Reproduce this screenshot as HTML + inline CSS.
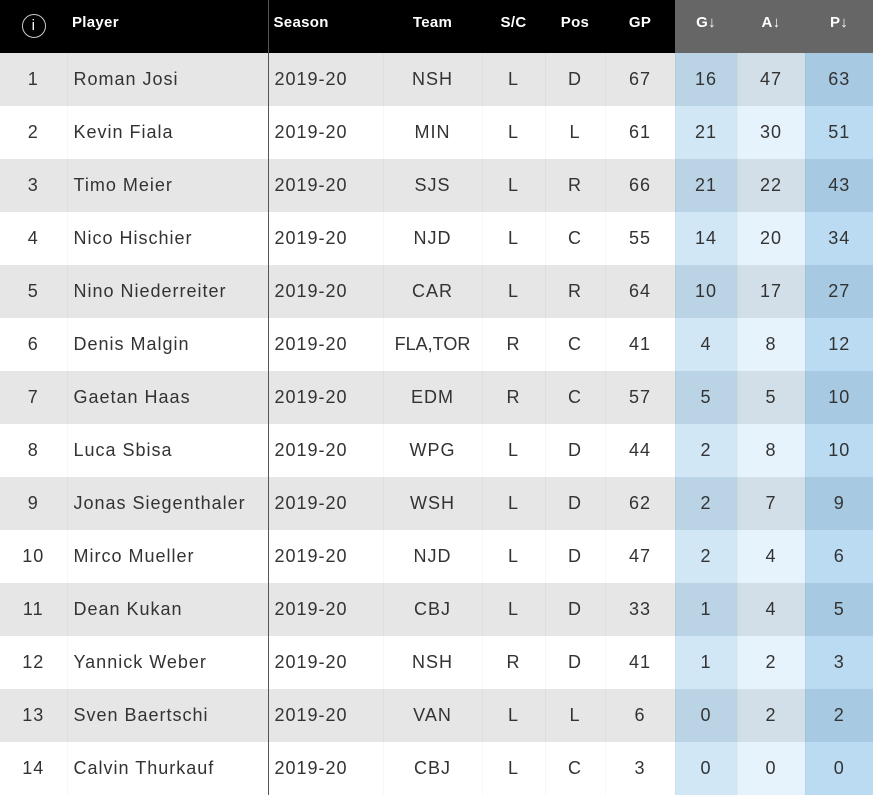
<!DOCTYPE html>
<html><head><style>
body{margin:0;width:873px;height:793px;overflow:hidden;background:#fff;font-family:"Liberation Sans",sans-serif}
table{border-collapse:collapse;table-layout:fixed;width:873px}
th{background:#000;color:#fff;font-size:15px;font-weight:bold;height:53px;padding:0;text-align:center;vertical-align:top;padding-top:14px;box-sizing:border-box;letter-spacing:0.3px}
th.s{background:#666}
td{height:53px;padding:0;font-size:18px;color:#333;text-align:center;border-left:1px solid rgba(0,0,0,0.03);letter-spacing:1px}
td:first-child,th:first-child{border-left:none}
tr:nth-child(odd) td{background:#e6e6e6}
td.l{text-align:left;padding-left:6px}
td.n{letter-spacing:1.2px}
th.l{text-align:left;padding-left:5px}
td.sep,th.sep{border-left:1px solid #555}
tr:nth-child(odd) td.g{background:#bad4e6}tr:nth-child(even) td.g{background:#d2e7f6}
tr:nth-child(odd) td.a{background:#d3dfe8}tr:nth-child(even) td.a{background:#e7f3fc}
tr:nth-child(odd) td.p{background:#a7c9e1}tr:nth-child(even) td.p{background:#badbf1}
.i{display:inline-block;width:22px;height:22px;border:1.5px solid #ccc;border-radius:50%;font-size:15px;line-height:22px;box-sizing:content-box;font-weight:normal}
</style></head><body>
<table>
<colgroup><col style="width:67px"><col style="width:201px"><col style="width:115px"><col style="width:99px"><col style="width:63px"><col style="width:60px"><col style="width:70px"><col style="width:62px"><col style="width:68px"><col style="width:68px"></colgroup>
<thead><tr><th><span class="i">i</span></th><th class="l">Player</th><th class="l sep">Season</th><th>Team</th><th>S/C</th><th>Pos</th><th>GP</th><th class="s">G↓</th><th class="s">A↓</th><th class="s">P↓</th></tr></thead>
<tbody>
<tr><td>1</td><td class="l">Roman Josi</td><td class="l sep">2019-20</td><td>NSH</td><td>L</td><td>D</td><td>67</td><td class="g">16</td><td class="a">47</td><td class="p">63</td></tr>
<tr><td>2</td><td class="l">Kevin Fiala</td><td class="l sep">2019-20</td><td>MIN</td><td>L</td><td>L</td><td>61</td><td class="g">21</td><td class="a">30</td><td class="p">51</td></tr>
<tr><td>3</td><td class="l">Timo Meier</td><td class="l sep">2019-20</td><td>SJS</td><td>L</td><td>R</td><td>66</td><td class="g">21</td><td class="a">22</td><td class="p">43</td></tr>
<tr><td>4</td><td class="l">Nico Hischier</td><td class="l sep">2019-20</td><td>NJD</td><td>L</td><td>C</td><td>55</td><td class="g">14</td><td class="a">20</td><td class="p">34</td></tr>
<tr><td>5</td><td class="l">Nino Niederreiter</td><td class="l sep">2019-20</td><td>CAR</td><td>L</td><td>R</td><td>64</td><td class="g">10</td><td class="a">17</td><td class="p">27</td></tr>
<tr><td>6</td><td class="l">Denis Malgin</td><td class="l sep">2019-20</td><td style="letter-spacing:0">FLA,TOR</td><td>R</td><td>C</td><td>41</td><td class="g">4</td><td class="a">8</td><td class="p">12</td></tr>
<tr><td>7</td><td class="l">Gaetan Haas</td><td class="l sep">2019-20</td><td>EDM</td><td>R</td><td>C</td><td>57</td><td class="g">5</td><td class="a">5</td><td class="p">10</td></tr>
<tr><td>8</td><td class="l">Luca Sbisa</td><td class="l sep">2019-20</td><td>WPG</td><td>L</td><td>D</td><td>44</td><td class="g">2</td><td class="a">8</td><td class="p">10</td></tr>
<tr><td>9</td><td class="l">Jonas Siegenthaler</td><td class="l sep">2019-20</td><td>WSH</td><td>L</td><td>D</td><td>62</td><td class="g">2</td><td class="a">7</td><td class="p">9</td></tr>
<tr><td>10</td><td class="l">Mirco Mueller</td><td class="l sep">2019-20</td><td>NJD</td><td>L</td><td>D</td><td>47</td><td class="g">2</td><td class="a">4</td><td class="p">6</td></tr>
<tr><td>11</td><td class="l">Dean Kukan</td><td class="l sep">2019-20</td><td>CBJ</td><td>L</td><td>D</td><td>33</td><td class="g">1</td><td class="a">4</td><td class="p">5</td></tr>
<tr><td>12</td><td class="l">Yannick Weber</td><td class="l sep">2019-20</td><td>NSH</td><td>R</td><td>D</td><td>41</td><td class="g">1</td><td class="a">2</td><td class="p">3</td></tr>
<tr><td>13</td><td class="l">Sven Baertschi</td><td class="l sep">2019-20</td><td>VAN</td><td>L</td><td>L</td><td>6</td><td class="g">0</td><td class="a">2</td><td class="p">2</td></tr>
<tr><td>14</td><td class="l">Calvin Thurkauf</td><td class="l sep">2019-20</td><td>CBJ</td><td>L</td><td>C</td><td>3</td><td class="g">0</td><td class="a">0</td><td class="p">0</td></tr>
</tbody></table>
</body></html>
